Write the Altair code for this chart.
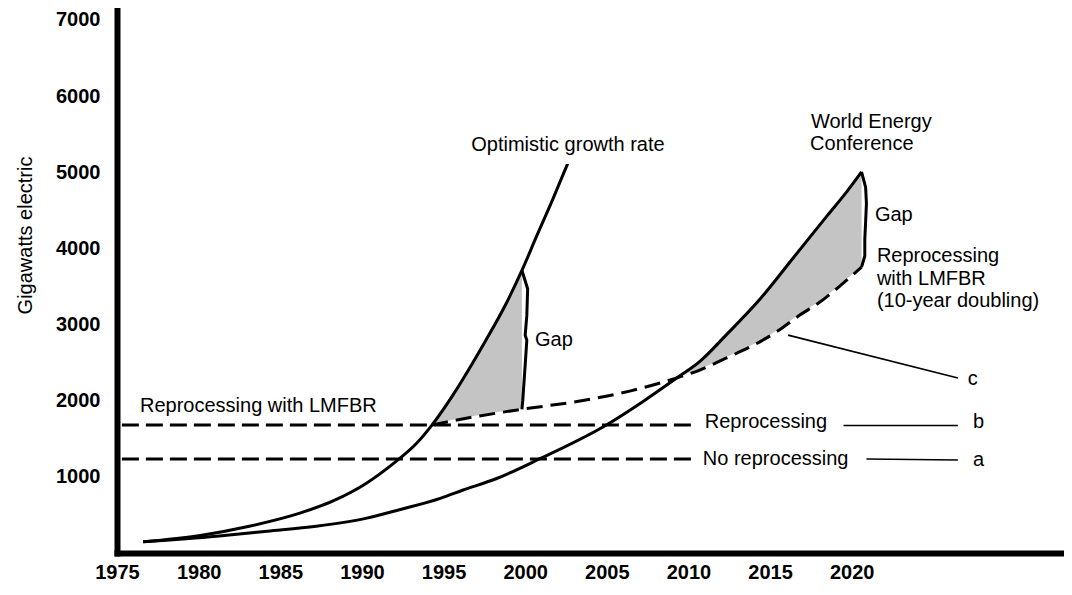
import altair as alt
import pandas as pd

# ---------------- data ----------------
year_ticks = [1975, 1980, 1985, 1990, 1995, 2000, 2005, 2010, 2015, 2020]
gw_ticks = [1000, 2000, 3000, 4000, 5000, 6000, 7000]

# Optimistic growth rate (solid)
opt_years = [1976.6, 1980.1, 1983.1, 1986.2, 1988.3, 1990.3, 1991.9, 1993.35, 1994.3,
             1995.6, 1996.6, 1997.6, 1998.7, 1999.8, 2000.7, 2001.7, 2002.6]
opt_values = [147, 230, 351, 523, 690, 920, 1170, 1440, 1682,
              2082, 2429, 2796, 3220, 3710, 4160, 4650, 5113]

# World Energy Conference (solid)
wec_years = [1976.6, 1981.1, 1984.2, 1987.2, 1990.3, 1992.3, 1994.8, 1996.2, 1998.25, 2000.9,
             2005.0, 2007.2, 2009.3, 2010.7, 2012.3, 2014.4, 2016.4, 2018.5, 2019.7, 2020.6]
wec_values = [147, 221, 286, 351, 458, 568, 718, 827, 978, 1238,
              1685, 1987, 2300, 2516, 2861, 3338, 3870, 4430, 4745, 5004]

# Reprocessing with LMFBR, 10-year doubling (dashed, curve c)
lmfbr_years = [1994.3, 1997.2, 1999.8, 2003.35, 2006.4, 2009.3, 2010.5, 2012.3, 2014.0,
               2015.4, 2016.8, 2018.05, 2019.3, 2020.6]
lmfbr_values = [1682, 1800, 1887, 1996, 2126, 2300, 2386, 2558, 2731,
                2905, 3121, 3295, 3510, 3753]

# Right-hand edges of the two "Gap" regions
gap1_years = [1999.8, 2000.15, 2000.1, 2000.0, 2000.1, 2000.0, 1999.85, 1999.8]
gap1_values = [3710, 3470, 3120, 2860, 2795, 2470, 2000, 1887]
gap2_years = [2020.6, 2020.85, 2020.9, 2020.85, 2020.8, 2020.8, 2020.6]
gap2_values = [5004, 4800, 4590, 4350, 4120, 3900, 3753]

# Flat dashed levels: b = reprocessing, a = no reprocessing
flat_names = ["b", "b", "a", "a"]
flat_years = [1975.3, 2010.5, 1975.3, 2010.4]
flat_values = [1680, 1680, 1235, 1235]

# Leader lines to the letters a, b, c
leader_names = ["c", "c", "b", "b", "a", "a"]
leader_years = [2016.1, 2026.5, 2019.5, 2026.5, 2020.9, 2026.5]
leader_values = [2861, 2299, 1675, 1675, 1234, 1221]

# Annotations
label_texts = ["Optimistic growth rate", "World Energy", "Conference", "Gap", "Gap",
               "Reprocessing", "with LMFBR", "(10-year doubling)",
               "Reprocessing with LMFBR", "Reprocessing", "No reprocessing", "c", "b", "a"]
label_years = [2002.62, 2017.5, 2017.45, 2000.6, 2021.42,
               2021.54, 2021.54, 2021.54,
               1976.41, 2011.0, 2010.88, 2027.11, 2027.42, 2027.42]
label_values = [5351, 5653, 5373, 2792, 4442,
                3896, 3597, 3312,
                1935, 1714, 1234, 2286, 1714, 1221]
label_align = ["center"] + ["left"] * 13

# ---------------- tables ----------------
opt_df = pd.DataFrame({"yr": opt_years, "v": opt_values})
wec_df = pd.DataFrame({"yr": wec_years, "v": wec_values})
lm_df = pd.DataFrame({"yr": lmfbr_years, "v": lmfbr_values})
gap_df = pd.DataFrame({
    "yr": gap1_years + gap2_years,
    "v": gap1_values + gap2_values,
    "g": ["g1"] * len(gap1_years) + ["g2"] * len(gap2_years),
    "i": list(range(len(gap1_years))) + list(range(len(gap2_years))),
})
flat_df = pd.DataFrame({"yr": flat_years, "v": flat_values, "s": flat_names})
lead_df = pd.DataFrame({"yr": leader_years, "v": leader_values, "s": leader_names})
lab_df = pd.DataFrame({"yr": label_years, "v": label_values, "t": label_texts, "al": label_align})

FONT = "Liberation Sans"

x_axis = alt.Axis(values=year_ticks, title=None, grid=False, ticks=False, tickSize=0,
                  domainWidth=6, domainColor="black", domainCap="square",
                  labelFont=FONT, labelFontSize=20, labelFontWeight="bold", labelColor="black",
                  labelPadding=9, labelFlush=False, labelOverlap=False, format="d", zindex=1)
y_axis = alt.Axis(values=gw_ticks, title="Gigawatts electric", grid=False, ticks=False, tickSize=0,
                  domainWidth=6, domainColor="black", domainCap="square",
                  labelFont=FONT, labelFontSize=20, labelFontWeight="bold", labelColor="black",
                  labelPadding=17, labelOverlap=False, format="d",
                  titleFont=FONT, titleFontSize=20, titleFontWeight="normal", titleColor="black",
                  titleAngle=270, titleX=-92, titleY=225, titleAlign="center",
                  titleBaseline="middle", zindex=1)

xs = alt.Scale(domain=[1975, 2033], nice=False, zero=False)
ys = alt.Scale(domain=[0, 7130], nice=False, zero=False)
X = alt.X("yr:Q", scale=xs, axis=x_axis)
Y = alt.Y("v:Q", scale=ys, axis=y_axis, stack=None)

GRAY = "#c4c4c4"
f1 = "datum.yr >= 1994.25 && datum.yr <= 1999.85"
f2 = "datum.yr >= 2009.25 && datum.yr <= 2020.65"

gray1 = alt.Chart(opt_df).transform_filter(f1).mark_area(
    color=GRAY, interpolate="monotone").encode(x=X, y=Y)
white1 = alt.Chart(lm_df).transform_filter(f1).mark_area(
    color="white", stroke="white", strokeWidth=2, interpolate="monotone").encode(x=X, y=Y)
gray2 = alt.Chart(wec_df).transform_filter(f2).mark_area(
    color=GRAY, interpolate="monotone").encode(x=X, y=Y)
white2 = alt.Chart(lm_df).transform_filter(f2).mark_area(
    color="white", stroke="white", strokeWidth=2, interpolate="monotone").encode(x=X, y=Y)

opt_line = alt.Chart(opt_df).mark_line(color="black", strokeWidth=3, interpolate="monotone").encode(x=X, y=Y)
wec_line = alt.Chart(wec_df).mark_line(color="black", strokeWidth=3, interpolate="monotone").encode(x=X, y=Y)
lm_line = alt.Chart(lm_df).mark_line(color="black", strokeWidth=3, strokeDash=[16, 8],
                                     interpolate="monotone").encode(x=X, y=Y)
flat_lines = alt.Chart(flat_df).mark_line(color="black", strokeWidth=3, strokeDash=[17, 7]).encode(
    x=X, y=Y, detail="s:N")
gap_lines = alt.Chart(gap_df).mark_line(color="black", strokeWidth=3, strokeJoin="round").encode(
    x=X, y=Y, detail="g:N", order="i:Q")
leaders = alt.Chart(lead_df).mark_line(color="black", strokeWidth=1.6).encode(x=X, y=Y, detail="s:N")

txt_c = alt.Chart(lab_df).transform_filter("datum.al == 'center'").mark_text(
    font=FONT, fontSize=20, color="black", align="center", baseline="middle").encode(x=X, y=Y, text="t:N")
txt_l = alt.Chart(lab_df).transform_filter("datum.al == 'left'").mark_text(
    font=FONT, fontSize=20, color="black", align="left", baseline="middle").encode(x=X, y=Y, text="t:N")

chart = alt.layer(
    gray1, white1, gray2, white2,
    opt_line, wec_line, lm_line, flat_lines, gap_lines, leaders, txt_c, txt_l,
).properties(
    width=947, height=543,
    padding={"left": 109, "top": 2, "right": 0, "bottom": 29},
    autosize=alt.AutoSizeParams(type="none"),
    background="white",
).configure_view(stroke=None)

chart.save("out.html", embed_options={"renderer": "svg", "actions": False})
